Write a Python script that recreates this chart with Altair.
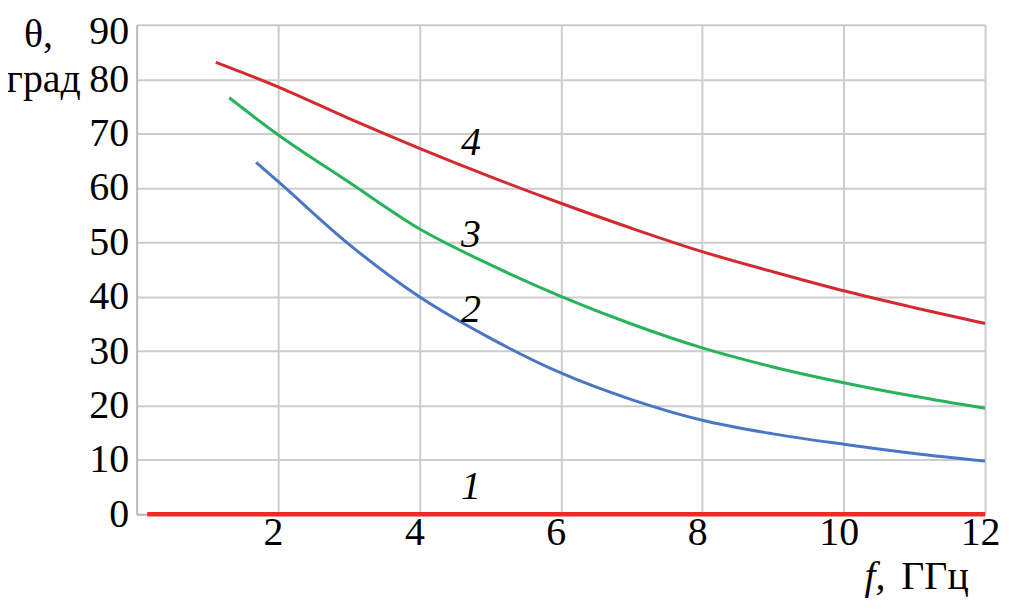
import altair as alt
import pandas as pd

# Curve data
f4 = [1.12, 2, 3, 4, 5, 6, 7, 8, 9, 10, 11, 12]
t4 = [83.1, 78.6, 72.8, 67.3, 62.1, 57.2, 52.6, 48.3, 44.6, 41.1, 38.0, 35.1]
f3 = [1.31, 2, 3, 4, 5, 6, 7, 8, 9, 10, 11, 12]
t3 = [76.6, 69.8, 61.1, 52.5, 45.9, 40.1, 35.0, 30.6, 27.1, 24.2, 21.7, 19.5]
f2 = [1.69, 2, 3, 4, 5, 6, 7, 8, 9, 10, 11, 12]
t2 = [64.7, 61.2, 49.7, 40.0, 32.4, 26.0, 21.1, 17.3, 14.8, 12.9, 11.2, 9.8]
f1 = [0.15, 12]
t1 = [0, 0]

curve_labels = ["1", "2", "3", "4"]
label_f = [4.73, 4.73, 4.73, 4.73]
label_t = [5.1, 37.6, 51.3, 68.2]

x_ticks = [2, 4, 6, 8, 10, 12]
y_ticks = [0, 10, 20, 30, 40, 50, 60, 70, 80, 90]

FONT = "Liberation Serif, Times New Roman, Times, serif"
FS = 40

def df(fs, ts, name):
    return pd.DataFrame({"f": fs, "theta": ts, "curve": name})

xs = alt.Scale(domain=[0, 12], nice=False, zero=False)
ys = alt.Scale(domain=[0, 90], nice=False)

x_axis = alt.Axis(values=x_ticks, format="d", title=None, grid=True, gridColor="#cccccc", gridWidth=2,
                  domainColor="#bbbbbb", domainWidth=2, ticks=False, labelFont=FONT,
                  labelFontSize=FS, labelColor="black", labelPadding=-2, labelOffset=-5,
                  labelFlush=False, labelOverlap=False)
y_axis = alt.Axis(values=y_ticks, format="d", title=None, grid=True, gridColor="#cccccc", gridWidth=2,
                  domainColor="#bbbbbb", domainWidth=2, ticks=False, labelFont=FONT,
                  labelFontSize=FS, labelColor="black", labelPadding=8,
                  labelOffset={"condition": {"test": "datum.value == 90", "value": 7}, "value": 0},
                  labelFlush=False, labelOverlap=False)

def line(data, color, width):
    return alt.Chart(data).mark_line(color=color, strokeWidth=width, interpolate="monotone").encode(
        x=alt.X("f:Q", scale=xs, axis=x_axis),
        y=alt.Y("theta:Q", scale=ys, axis=y_axis),
    )

l4 = line(df(f4, t4, "4"), "#d42a2f", 3)
l3 = line(df(f3, t3, "3"), "#27b35a", 3)
l2 = line(df(f2, t2, "2"), "#4a77c4", 3)
l1 = line(df(f1, t1, "1"), "#ee2a24", 4.5)

labels = alt.Chart(pd.DataFrame({"f": label_f, "theta": label_t, "lab": curve_labels})).mark_text(
    font=FONT, fontSize=FS, fontStyle="italic", baseline="middle", align="center", color="black"
).encode(x=alt.X("f:Q", scale=xs), y=alt.Y("theta:Q", scale=ys), text="lab:N")

def note(txt, x, y, align="left", italic=False):
    return alt.Chart(pd.DataFrame({"t": [txt]})).mark_text(
        font=FONT, fontSize=FS, fontStyle="italic" if italic else "normal",
        align=align, baseline="alphabetic", color="black"
    ).encode(x=alt.value(x), y=alt.value(y), text="t:N")

t_theta = note("θ,", -113, 22)
t_grad = note("град", -56, 67, align="right")
t_f = note("f,", 730, 566, italic=True)
t_ghz = note("ГГц", 767, 566)

chart = alt.layer(l4, l3, l2, l1, labels, t_theta, t_grad, t_f, t_ghz).properties(
    width=851, height=491,
    autosize=alt.AutoSizeParams(type="none"),
    padding={"left": 129, "top": 16, "right": 16, "bottom": 85},
).configure_view(stroke=None).configure(background="white")

chart.save("out.html", embed_options={"renderer": "svg", "actions": False})
